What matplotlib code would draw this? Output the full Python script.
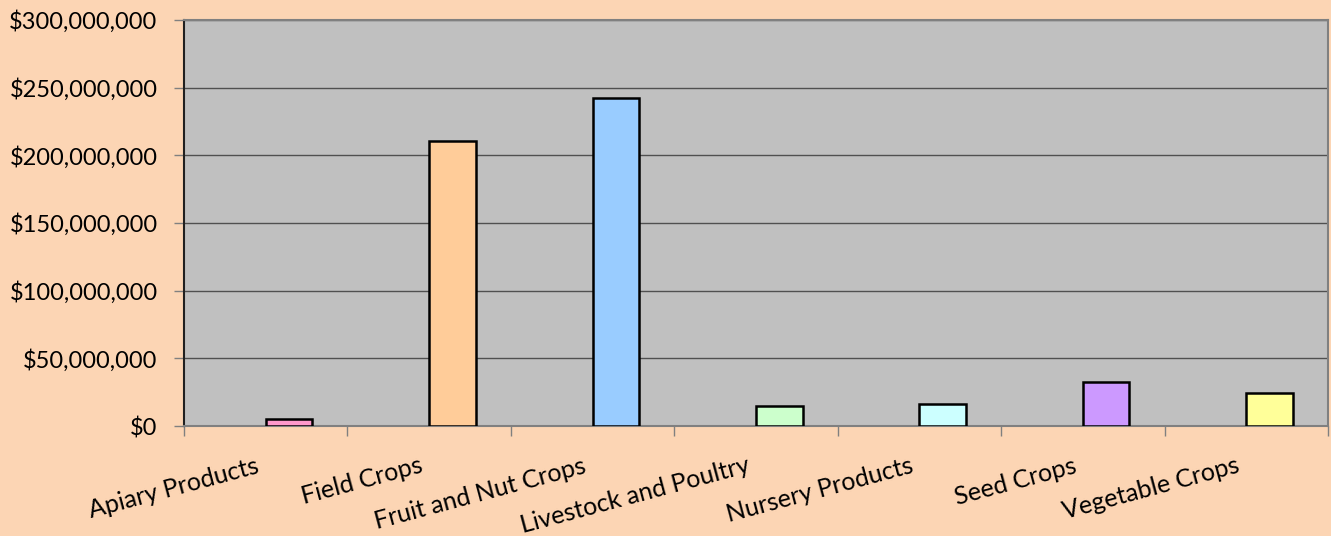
import matplotlib
matplotlib.use("Agg")
import matplotlib.pyplot as plt
from matplotlib.ticker import FuncFormatter, FixedLocator
import numpy as np

categories = ["Apiary Products", "Field Crops", "Fruit and Nut Crops",
              "Livestock and Poultry", "Nursery Products", "Seed Crops",
              "Vegetable Crops"]
values = [5_200_000, 210_600_000, 242_400_000, 14_800_000, 16_300_000,
          32_500_000, 24_400_000]
bar_colors = ["#FF99CC", "#FFCC99", "#99CCFF", "#CCFFCC", "#CCFFFF",
              "#CC99FF", "#FFFF99"]
y_ticks = [0, 50_000_000, 100_000_000, 150_000_000, 200_000_000,
           250_000_000, 300_000_000]

plt.rcParams['font.family'] = ['Lato', 'DejaVu Sans']

fig = plt.figure(figsize=(13.31, 5.36), dpi=100, facecolor="#FCD5B4")
ax = fig.add_axes([0.1382, 0.2052, 0.9977 - 0.1382, 0.9627 - 0.2052])
ax.set_facecolor("#C0C0C0")

w = 1 / 3.5
x = np.arange(len(categories))
ax.bar(x + w / 2, values, width=w, color=bar_colors, edgecolor="black",
       linewidth=1.8, zorder=3)

ax.set_xlim(-0.5, len(categories) - 0.5)
ax.set_ylim(0, 300_000_000)
ax.yaxis.set_major_locator(FixedLocator(y_ticks))
ax.yaxis.set_major_formatter(FuncFormatter(lambda v, p: f"${v:,.0f}"))
ax.grid(axis="y", color="#505050", linewidth=1.0, zorder=1)
ax.set_axisbelow(True)

ax.set_xticks(np.arange(len(categories) + 1) - 0.5)
ax.set_xticklabels([])
ax.tick_params(axis="x", direction="out", length=7, color="#808080", width=1)
ax.tick_params(axis="y", direction="out", length=7, color="#808080", width=1,
               labelsize=17, pad=12)

for i, c in enumerate(categories):
    ax.annotate(c, xy=(i, 0), xycoords=("data", "axes fraction"),
                xytext=(-10, -28), textcoords="offset pixels",
                rotation=15, rotation_mode="anchor", ha="right", va="top",
                fontsize=18)

ax.spines["left"].set_color("#202020")
ax.spines["left"].set_linewidth(1.5)
for s in ["bottom", "top", "right"]:
    ax.spines[s].set_color("#808080")
    ax.spines[s].set_linewidth(1.5)

fig.savefig("out.png", dpi=100, facecolor=fig.get_facecolor())
